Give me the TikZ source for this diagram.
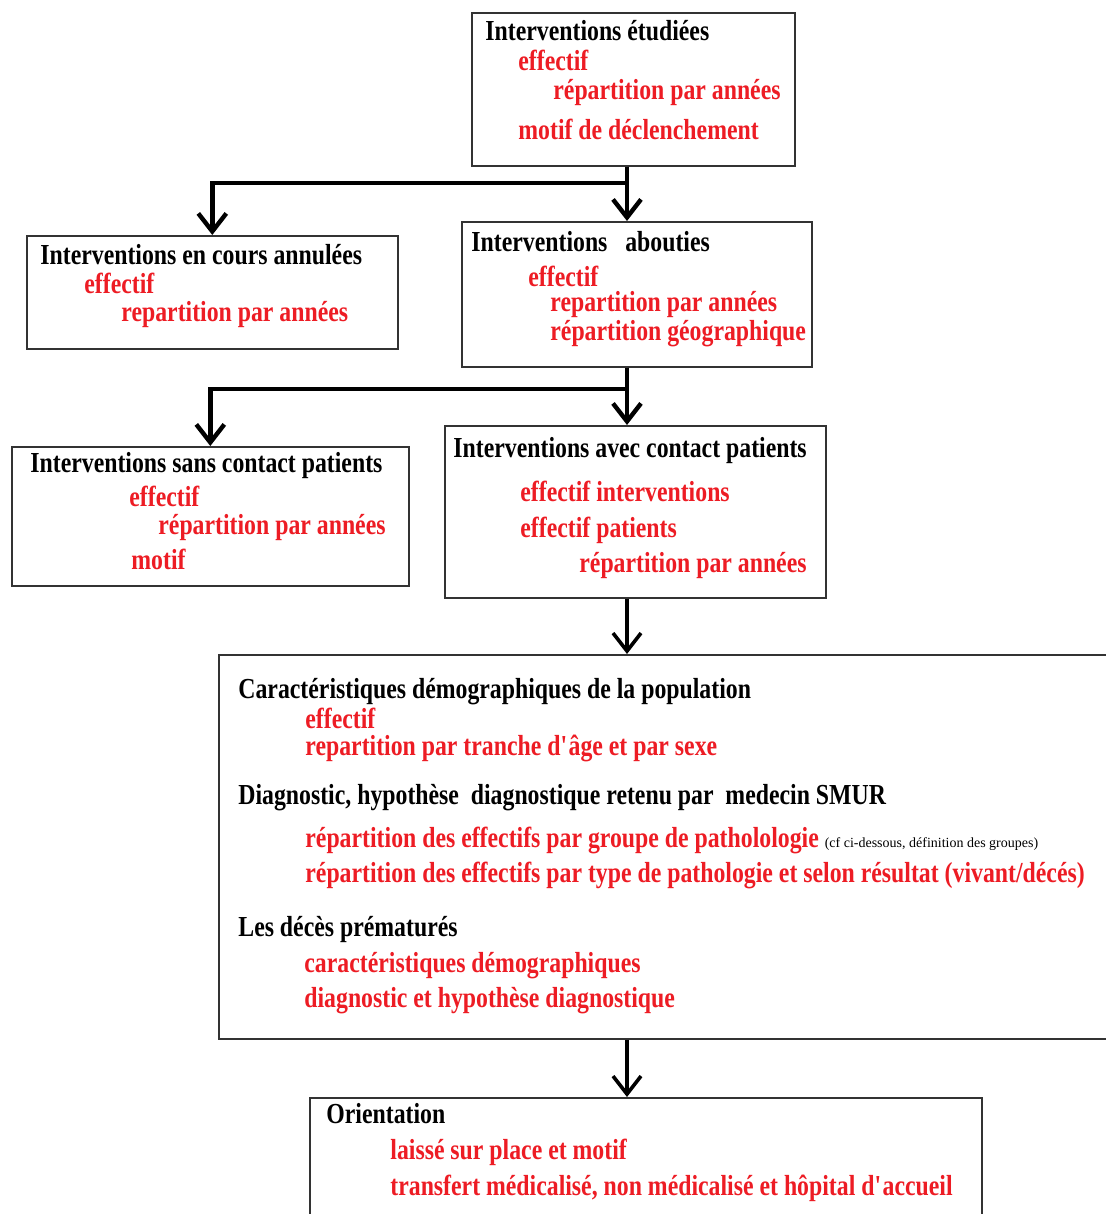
\documentclass[tikz,border=0pt]{standalone}
\usepackage{fontspec}
\setmainfont{Liberation Serif}[FakeStretch=0.82]
\newfontfamily\plainfont{Liberation Serif}
\usetikzlibrary{arrows.meta}
\definecolor{itemred}{RGB}{237,28,36}

\begin{document}
\begin{tikzpicture}[x=0.5pt,y=-0.5pt,
    box/.style={draw=black!80, line width=0.8pt, anchor=north west, inner sep=0pt},
    titre/.style={anchor=base west, inner sep=0pt, font=\fontsize{14.5}{17}\selectfont\bfseries},
    item/.style={titre, text=itemred},
    link/.style={line width=2.2pt, -{Straight Barb[length=9pt,width=14pt]}},
    thinlink/.style={link, line width=1.8pt}]
    \clip (0,0) rectangle (1106,1214);
    % boxes
    \node[box, minimum width=161.5pt, minimum height=76.5pt] (etud) at (471,12) {};
    \node[box, minimum width=185.5pt, minimum height=56.5pt] (annul) at (26,235) {};
    \node[box, minimum width=175pt, minimum height=72.5pt] (abou) at (461,221) {};
    \node[box, minimum width=198.5pt, minimum height=69.5pt] (sans) at (11,446) {};
    \node[box, minimum width=190.5pt, minimum height=86pt] (avec) at (444,425) {};
    \node[box, minimum width=460pt, minimum height=192pt] (carac) at (218,654) {};
    \node[box, minimum width=336pt, minimum height=80pt] (orient) at (309,1097) {};
    % interventions etudiees
    \node[titre] (etud-t) at (485,41) {Interventions étudiées};
    \node[item] (etud-a) at (518,71) {effectif};
    \node[item] (etud-b) at (553,100) {répartition par années};
    \node[item] (etud-c) at (518,140) {motif de déclenchement};
    % annulees
    \node[titre] (annul-t) at (40,264) {Interventions en cours annulées};
    \node[item] (annul-a) at (84,293) {effectif};
    \node[item] (annul-b) at (121,321) {repartition par années};
    % abouties
    \node[titre] (abou-t) at (471,251) {Interventions\ \ \ abouties};
    \node[item] (abou-a) at (528,286) {effectif};
    \node[item] (abou-b) at (550,311) {repartition par années};
    \node[item] (abou-c) at (550,340) {répartition géographique};
    % sans contact
    \node[titre] (sans-t) at (30,472) {Interventions sans contact patients};
    \node[item] (sans-a) at (129,506) {effectif};
    \node[item] (sans-b) at (158,534) {répartition par années};
    \node[item] (sans-c) at (131,569) {motif};
    % avec contact
    \node[titre] (avec-t) at (453,457) {Interventions avec contact patients};
    \node[item] (avec-a) at (520,501) {effectif interventions};
    \node[item] (avec-b) at (520,537) {effectif patients};
    \node[item] (avec-c) at (579,572) {répartition par années};
    % caracteristiques
    \node[titre] (carac-t) at (238,698) {Caractéristiques démographiques de la population};
    \node[item] (carac-a) at (305,728) {effectif};
    \node[item] (carac-b) at (305,755) {repartition par tranche d\textquotesingle âge et par sexe};
    \node[titre] (diag-t) at (238,804) {Diagnostic, hypothèse\ \ diagnostique retenu par\ \ medecin SMUR};
    \node[item] (diag-a) at (305,847) {répartition des effectifs par groupe de patholologie\ {\color{black}\plainfont\mdseries\fontsize{7}{8}\selectfont (cf ci-dessous, définition des groupes)}};
    \node[item] (diag-b) at (305,882) {répartition des effectifs par type de pathologie et selon résultat (vivant/décés)};
    \node[titre] (deces-t) at (238,936) {Les décès prématurés};
    \node[item] (deces-a) at (304,972) {caractéristiques démographiques};
    \node[item] (deces-b) at (304,1007) {diagnostic et hypothèse diagnostique};
    % orientation
    \node[titre] (orient-t) at (326,1123) {Orientation};
    \node[item] (orient-a) at (390,1159) {laissé sur place et motif};
    \node[item] (orient-b) at (390,1195) {transfert médicalisé, non médicalisé et hôpital d\textquotesingle accueil};
    % connectors
    \coordinate (split1) at (627,183);
    \coordinate (split2) at (627,389);
    \draw[link] (etud.south -| split1) -- (abou.north -| split1);
    \draw[link] (etud.south -| split1) -- (split1) -| (annul.north);
    \draw[link] (abou.south -| split2) -- (avec.north -| split2);
    \draw[link] (abou.south -| split2) -- (split2) -| (sans.north);
    \draw[thinlink] (avec.south -| split2) -- (carac.north -| split2);
    \draw[thinlink] (carac.south -| split2) -- (orient.north -| split2);
\end{tikzpicture}
\end{document}
